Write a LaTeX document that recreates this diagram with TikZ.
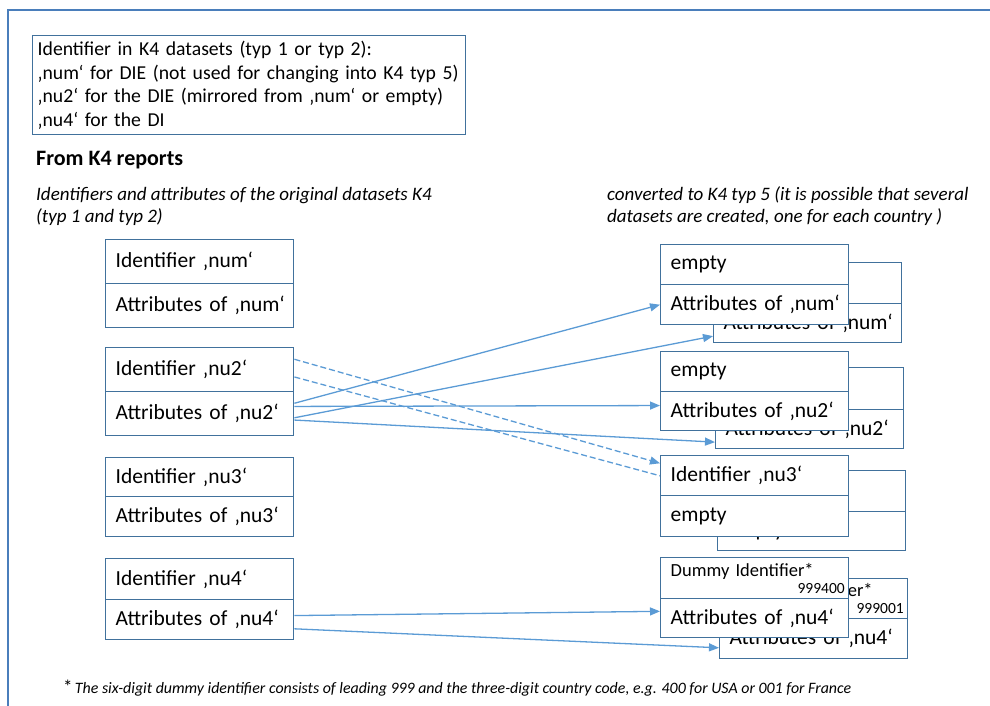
\documentclass[tikz,border=0pt]{standalone}
\usepackage{fontspec}
\setmainfont{Carlito}
\usepackage{tikz}
\usetikzlibrary{arrows.meta,calc}
\definecolor{frameblue}{RGB}{74,126,187}
\definecolor{boxblue}{RGB}{65,113,156}
\definecolor{linkblue}{RGB}{91,155,213}

\begin{document}
\begin{tikzpicture}[x=1pt,y=-1pt,
	cell/.style={draw=boxblue, line width=1.4pt, fill=white, anchor=north west, minimum width=188pt, text width=180pt, inner xsep=4pt, inner ysep=0pt, align=left, execute at begin node=\hspace*{6pt}, font=\fontsize{21.5}{26}\selectfont},
	link/.style={draw=linkblue, line width=1.3pt, -{Triangle[length=10pt,width=8pt]}},
	dashlink/.style={link, dash pattern=on 6pt off 3pt}]
	\useasboundingbox (0,0) rectangle (990,706);
	\draw [frameblue, line width=2pt] (992,10) -- (8,10) -- (8,708);
	\node [draw=boxblue, line width=1.4pt, anchor=north west, minimum width=433pt, minimum height=99pt, text width=423pt, inner xsep=5pt, inner ysep=0pt, align=left, font=\fontsize{19.7}{23.5}\selectfont] (info) at (32,35) {Identifier in K4 datasets (typ 1 or typ 2):\\‚num‘ for DIE (not used for changing into K4 typ 5)\\‚nu2‘ for the DIE (mirrored from ‚num‘ or empty)\\‚nu4‘ for the DI};
	\node [anchor=west, inner sep=0pt, font=\bfseries\fontsize{22}{26}\selectfont] (title) at (36,160) {From K4 reports};
	\node [anchor=west, inner sep=0pt, align=left, font=\itshape\fontsize{19}{22}\selectfont] (left note) at (36,206) {Identifiers and attributes of the original datasets K4\\(typ 1 and typ 2)};
	\node [anchor=west, inner sep=0pt, align=left, font=\itshape\fontsize{19}{22}\selectfont] (right note) at (607,206) {converted to K4 typ 5 (it is possible that several\\datasets are created, one for each country )};

	\node [cell, minimum height=44pt] (num id) at (105,239) {Identifier ‚num‘};
	\node [cell, minimum height=44pt] (num at) at (105,283) {Attributes of ‚num‘};
	\node [cell, minimum height=44pt] (nu2 id) at (105,347) {Identifier ‚nu2‘};
	\node [cell, minimum height=44pt] (nu2 at) at (105,391) {Attributes of ‚nu2‘};
	\node [cell, minimum height=39pt] (nu3 id) at (105,457) {Identifier ‚nu3‘};
	\node [cell, minimum height=40pt] (nu3 at) at (105,496) {Attributes of ‚nu3‘};
	\node [cell, minimum height=41pt] (nu4 id) at (105,558) {Identifier ‚nu4‘};
	\node [cell, minimum height=40pt] (nu4 at) at (105,599) {Attributes of ‚nu4‘};

	\node [cell, minimum height=41pt] (num id back) at (713,262) {};
	\node [cell, minimum height=39pt] (num at back) at (713,303) {Attributes of ‚num‘};
	\node [cell, minimum height=42pt] (nu2 id back) at (715,367) {};
	\node [cell, minimum height=39pt] (nu2 at back) at (715,409) {Attributes of ‚nu2‘};
	\node [cell, minimum height=41pt] (nu3 id back) at (717,470) {};
	\node [cell, minimum height=39pt] (nu3 at back) at (717,511) {empty};
	\node [cell, minimum height=40pt, font=\fontsize{18.5}{17}\selectfont] (nu4 id back) at (719,578) {Dummy Identifier*\\\hfill{\fontsize{15.5}{17}\selectfont 999001}\hspace*{3pt}};
	\node [cell, minimum height=40pt] (nu4 at back) at (719,618) {Attributes of ‚nu4‘};

	\draw [link] ($(nu2 at.north east)!.59!(nu2 at.south east)$) -- ($(num at back.north west)!.82!(num at back.south west)$);
	\draw [link] ($(nu2 at.north east)!.64!(nu2 at.south east)$) -- ($(nu2 at back.north west)!.82!(nu2 at back.south west)$);
	\draw [dashlink] ($(nu2 id.north east)!.66!(nu2 id.south east)$) -- (nu3 id back.west);
	\draw [link] ($(nu4 at.north east)!.72!(nu4 at.south east)$) -- ($(nu4 at back.north west)!.72!(nu4 at back.south west)$);

	\node [cell, minimum height=40pt] (num id front) at (660,244) {empty};
	\node [cell, minimum height=40pt] (num at front) at (660,284) {Attributes of ‚num‘};
	\node [cell, minimum height=40pt] (nu2 id front) at (660,351) {empty};
	\node [cell, minimum height=39pt] (nu2 at front) at (660,391) {Attributes of ‚nu2‘};
	\node [cell, minimum height=40pt] (nu3 id front) at (660,455) {Identifier ‚nu3‘};
	\node [cell, minimum height=41pt] (nu3 at front) at (660,495) {empty};
	\node [cell, minimum height=41pt, font=\fontsize{18.5}{17}\selectfont] (nu4 id front) at (660,557) {Dummy Identifier*\\\hfill{\fontsize{15.5}{17}\selectfont 999400}\hspace*{3pt}};
	\node [cell, minimum height=39pt] (nu4 at front) at (660,598) {Attributes of ‚nu4‘};

	\draw [link] ($(nu2 at.north east)!.27!(nu2 at.south east)$) -- (num at front.west);
	\draw [link] ($(nu2 at.north east)!.34!(nu2 at.south east)$) -- ($(nu2 at front.north west)!.36!(nu2 at front.south west)$);
	\draw [dashlink] ($(nu2 id.north east)!.27!(nu2 id.south east)$) -- ($(nu3 id front.north west)!.2!(nu3 id front.south west)$);
	\draw [link] ($(nu4 at.north east)!.4!(nu4 at.south east)$) -- ($(nu4 at front.north west)!.33!(nu4 at front.south west)$);

	\node [anchor=west, inner sep=0pt] (footnote) at (63,688) {{\fontsize{19}{20}\selectfont *} {\itshape\fontsize{15.9}{18}\selectfont The six-digit dummy identifier consists of leading 999 and the three-digit country code, e.g. 400 for USA or 001 for France}};
\end{tikzpicture}
\end{document}
